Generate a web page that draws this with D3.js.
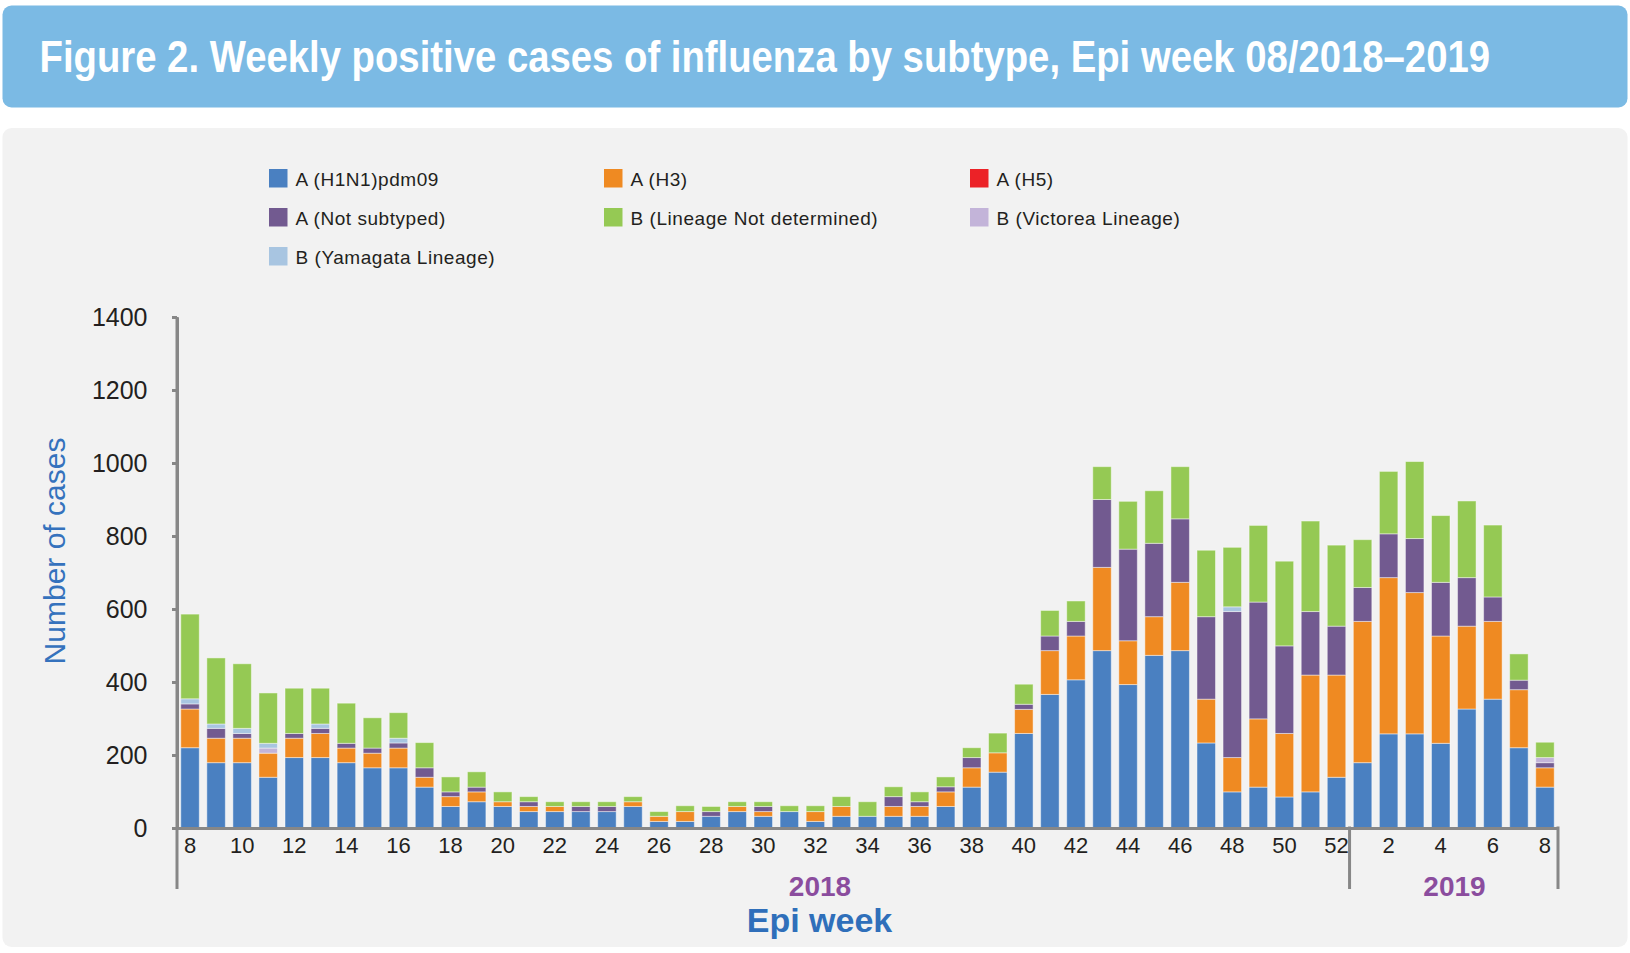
<!DOCTYPE html>
<html><head><meta charset="utf-8">
<script src="https://cdn.jsdelivr.net/npm/d3@7"></script>
<style>
body{margin:0;background:#fff;}
svg{display:block;}
text{font-family:"Liberation Sans",Arial,Helvetica,sans-serif;}
</style>
</head><body>
<svg id="chart" width="1630" height="953"></svg>
<script>
// ---- data ----
const years = ["2018", "2019"];
const weeks2018 = [8,9,10,11,12,13,14,15,16,17,18,19,20,21,22,23,24,25,26,27,28,29,30,31,32,33,34,35,36,37,38,39,40,41,42,43,44,45,46,47,48,49,50,51,52];
const weeks2019 = [1,2,3,4,5,6,7,8];
const seriesNames = ["A (H1N1)pdm09","A (H3)","A (H5)","A (Not subtyped)","B (Lineage Not determined)","B (Victorea Lineage)","B (Yamagata Lineage)"];
const seriesColors = ["#4a80c1","#ef8a22","#ec2227","#725a90","#95c954","#c3b4d9","#a8c5e1"];
const h1n1 = [220,179,179,139,193,193,179,165,165,112,59,72,59,45,45,45,45,59,18,18,32,45,32,45,18,32,32,32,32,59,112,153,259,366,406,486,393,473,486,233,99,112,85,99,139, 179,258,258,232,326,353,220,112];
const h3   = [106,67,67,66,53,66,40,40,54,27,27,27,13,14,14,0,0,13,14,27,0,14,13,0,27,27,0,27,27,40,53,53,66,120,120,228,120,106,187,120,94,187,174,320,280, 387,428,387,294,227,213,159,53];
const h5   = [0,0,0,0,0,0,0,0,0,0,0,0,0,0,0,0,0,0,0,0,0,0,0,0,0,0,0,0,0,0,0,0,0,0,0,0,0,0,0,0,0,0,0,0,0, 0,0,0,0,0,0,0,0];
const notSubtyped = [14,27,13,0,13,14,13,14,14,26,13,13,0,13,0,14,14,0,0,0,13,0,14,0,0,0,0,27,13,14,28,0,14,40,40,186,251,201,174,226,400,320,240,174,134, 93,120,148,147,133,67,26,14];
const victoria = [0,0,0,14,0,0,0,0,0,0,0,0,0,0,0,0,0,0,0,0,0,0,0,0,0,0,0,0,0,0,0,0,0,0,0,0,0,0,0,0,0,0,0,0,0, 0,0,0,0,0,0,0,14];
const yamagata = [14,12,14,13,0,12,0,0,13,0,0,0,0,0,0,0,0,0,0,0,0,0,0,0,0,0,0,0,0,0,0,0,0,0,0,0,0,0,0,0,13,0,0,0,0, 0,0,0,0,0,0,0,0];
const bNotDetermined = [232,181,177,138,124,98,110,83,70,69,41,42,27,14,13,13,13,14,13,16,14,13,13,16,16,27,40,27,27,27,27,54,55,70,56,90,131,144,143,182,163,210,232,248,222, 131,171,211,183,210,197,72,42];
const yTicks = [0,200,400,600,800,1000,1200,1400];

// ---- build table ----
const keys = ["h1n1","h3","h5","ns","vic","yam","bnd"];
const keyIdx = {h1n1:0,h3:1,h5:2,ns:3,vic:5,yam:6,bnd:4};
const rows = [];
weeks2018.forEach(w=>rows.push({id:"2018-"+w, week:w, year:"2018"}));
weeks2019.forEach(w=>rows.push({id:"2019-"+w, week:w, year:"2019"}));
rows.forEach((r,i)=>{ r.h1n1=h1n1[i]; r.h3=h3[i]; r.h5=h5[i]; r.ns=notSubtyped[i]; r.vic=victoria[i]; r.yam=yamagata[i]; r.bnd=bNotDetermined[i]; });

const svg = d3.select("#chart");

// banner + panel
svg.append("rect").attr("x",2.5).attr("y",5.5).attr("width",1625).attr("height",102).attr("rx",9).attr("fill","#7bbae4");
const title = svg.append("text").attr("x",0).attr("y",0)
  .attr("font-size",44).attr("font-weight","bold").attr("fill","#fff")
  .text("Figure 2. Weekly positive cases of influenza by subtype, Epi week 08/2018\u20132019");
const natW = title.node().getComputedTextLength();
title.attr("transform",`translate(39.5,71.7) scale(${1451/natW},1)`);
svg.append("rect").attr("x",2.5).attr("y",128).attr("width",1625).attr("height",819).attr("rx",9).attr("fill","#f2f2f2");

// legend
const legendPos = [[269,169],[604,169],[970,169],[269,208],[604,208],[970,208],[269,247]];
seriesNames.forEach((name,i)=>{
  const [lx,ly] = legendPos[i];
  svg.append("rect").attr("x",lx).attr("y",ly).attr("width",18.5).attr("height",18.5).attr("fill",seriesColors[i]);
  svg.append("text").attr("x",lx+26.5).attr("y",ly+17).attr("font-size",19).attr("letter-spacing",0.55)
    .attr("fill","#231f20").text(name);
});

// scales
const x = d3.scaleBand().domain(rows.map(r=>r.id)).range([177,1558]).paddingInner(0.29).paddingOuter(0.145);
const y = d3.scaleLinear().domain([0,1400]).range([828,317]);

// bars
const stack = d3.stack().keys(keys)(rows);
const g = svg.append("g");
stack.forEach(layer=>{
  const col = seriesColors[keyIdx[layer.key]];
  g.append("g").selectAll("rect").data(layer.filter(d=>d[1]-d[0]>0)).join("rect")
    .attr("x",d=>x(d.data.id)).attr("width",x.bandwidth())
    .attr("y",d=>y(d[1])).attr("height",d=>y(d[0])-y(d[1]))
    .attr("fill",col).attr("stroke","rgba(255,255,255,0.45)").attr("stroke-width",1);
});

// y axis
const yAxis = svg.append("g").attr("transform","translate(177,0)")
  .call(d3.axisLeft(y).tickValues(yTicks).tickFormat(d3.format("d")).tickSize(5).tickPadding(24.5).tickSizeOuter(0));
yAxis.select(".domain").attr("stroke","#878787").attr("stroke-width",3);
yAxis.selectAll(".tick line").attr("stroke","#878787").attr("stroke-width",3);
yAxis.selectAll(".tick text").attr("font-size",25).attr("fill","#231f20").attr("font-family","Liberation Sans, Arial, sans-serif");

// x axis
const xTickIds = rows.filter(r=>r.week%2===0).map(r=>r.id);
const xAxis = svg.append("g").attr("transform","translate(0,828)")
  .call(d3.axisBottom(x).tickValues(xTickIds).tickSize(0).tickSizeOuter(0).tickFormat(id=>id.split("-")[1]));
xAxis.select(".domain").attr("stroke","#878787").attr("stroke-width",3);
xAxis.selectAll(".tick text").attr("y",25).attr("dy",0).attr("font-size",22).attr("fill","#231f20").attr("font-family","Liberation Sans, Arial, sans-serif");

// year separators
const sepX = [x.range()[0], x(rows[weeks2018.length].id) - x.step()*x.paddingInner()/2, x.range()[1]];
svg.selectAll(".sep").data(sepX).join("line").attr("class","sep")
  .attr("x1",d=>d).attr("x2",d=>d).attr("y1",(d,i)=>i===0?317:826.5).attr("y2",889)
  .attr("stroke","#878787").attr("stroke-width",3);

// year labels
const yearX = [820, 1454.5];
years.forEach((yr,i)=>{
  svg.append("text").attr("x",yearX[i]).attr("y",896).attr("text-anchor","middle")
    .attr("font-size",28).attr("font-weight","bold").attr("fill","#8b4d9e").text(yr);
});

// axis titles
svg.append("text").attr("x",819.5).attr("y",931.7).attr("text-anchor","middle")
  .attr("font-size",34).attr("font-weight","bold").attr("fill","#2f6fba").text("Epi week");
svg.append("text").attr("transform","translate(65,551) rotate(-90)").attr("text-anchor","middle")
  .attr("font-size",30).attr("fill","#3572bd").text("Number of cases");
</script>
</body></html>
